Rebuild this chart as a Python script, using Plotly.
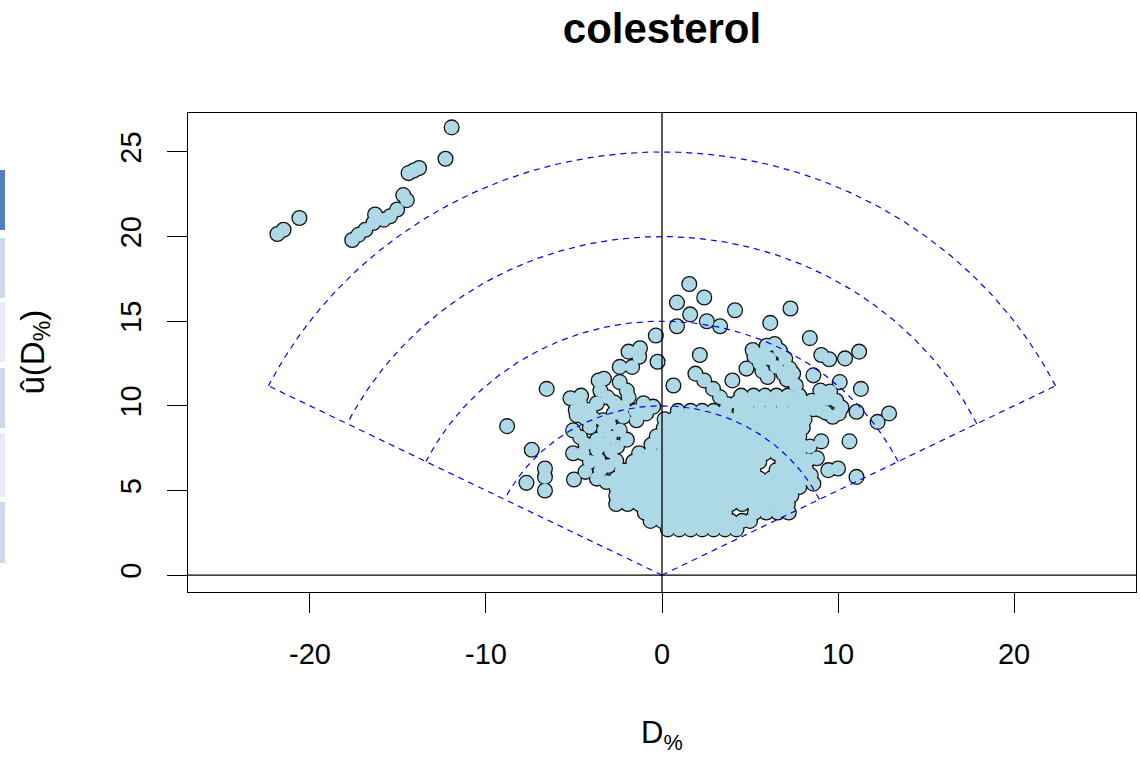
import numpy as np
import plotly.graph_objects as go

# ---- chart text ----
title_text = "colesterol"
x_title = "D<sub>%</sub>"
y_title = "û(D<sub>%</sub>)"
x_ticks = [-20, -10, 0, 10, 20]
x_tick_text = ["-20", "-10", "0", "10", "20"]
y_ticks = [0, 5, 10, 15, 20, 25]
y_tick_text = ["0", "5", "10", "15", "20", "25"]

# ---- reference wedge: arcs of constant radius, bounded by u = |D| * slope ----
radii = [10, 15, 20, 25]
slope_limit = 0.5

# ---- observations (D%, u(D%)) ----
far_left_strip = [
    (-21.85, 20.15), (-21.5, 20.4), (-20.6, 21.1), (-17.6, 19.8), (-17.25, 20.1),
    (-16.85, 20.4), (-16.4, 20.8), (-16.3, 21.3), (-15.8, 21.0), (-15.45, 21.2),
    (-15.05, 21.6), (-14.7, 22.45), (-14.5, 22.15), (-14.4, 23.75), (-14.1, 23.9),
    (-13.8, 24.05), (-12.3, 24.6), (-11.95, 26.45),
]

left_scatter = [
    (-8.8, 8.8), (-7.4, 7.4), (-6.65, 6.3), (-6.65, 5.8), (-6.65, 5.0),
    (-7.7, 5.45), (-5.0, 5.65), (-6.55, 11.0),
]

left_mass = [
    (-5.2, 10.45), (-4.65, 10.15), (-4.25, 9.75), (-4.9, 9.75), (-4.85, 9.45),
    (-3.6, 11.5), (-3.3, 11.6), (-3.5, 10.9), (-3.1, 10.5), (-3.7, 10.15),
    (-4.1, 9.75), (-2.4, 11.4), (-2.0, 10.9), (-1.9, 10.5), (-2.75, 9.55),
    (-2.2, 9.35), (-2.2, 9.95), (-3.35, 9.15), (-4.1, 8.75), (-5.05, 8.55),
    (-4.65, 8.15), (-3.7, 8.0), (-2.95, 8.15), (-2.4, 8.55), (-2.0, 8.0),
    (-2.55, 7.6), (-3.7, 7.4), (-5.05, 7.2), (-4.1, 6.7), (-3.05, 6.45),
    (-3.7, 5.7), (-3.15, 5.5), (-1.45, 9.15), (-0.9, 9.55), (-1.05, 10.15),
    (-0.5, 9.95), (-4.4, 9.3), (-3.9, 9.25), (-3.0, 8.95), (-3.3, 8.55),
    (-4.35, 7.75), (-3.3, 7.7), (-2.9, 7.3), (-4.5, 7.2), (-3.6, 6.8),
    (-2.6, 6.75), (-3.5, 6.2), (-4.35, 6.1), (-4.6, 10.6), (-2.7, 10.2),
    (-1.5, 9.7),
]

upper_center = [
    (-1.9, 13.2), (-1.25, 13.4), (-1.3, 12.9), (-2.4, 12.3), (-1.7, 12.3),
    (-0.35, 14.15), (-0.25, 12.6), (0.65, 11.2), (0.85, 16.1), (1.55, 17.2),
    (2.4, 16.4), (1.6, 15.4), (0.85, 14.7), (2.55, 15.0), (3.3, 14.7),
    (4.15, 15.65), (2.15, 13.0), (1.9, 11.9), (2.4, 11.5), (2.9, 11.0),
    (3.3, 10.5), (3.7, 10.1), (4.0, 11.5), (4.8, 12.2),
]

upper_right = [
    (6.15, 14.9), (5.15, 13.3), (5.95, 13.55), (6.7, 13.25), (5.55, 12.5),
    (6.5, 12.3), (7.25, 12.2), (7.1, 11.55), (6.0, 11.7), (6.1, 12.8),
    (7.3, 15.75), (8.4, 14.0), (5.25, 12.9), (5.6, 13.05), (6.4, 13.65),
    (7.0, 12.8), (6.9, 11.9), (7.45, 11.9), (5.7, 12.05), (7.6, 11.2),
]

right_side = [
    (9.05, 13.0), (9.5, 12.75), (10.4, 12.8), (11.2, 13.2), (8.6, 11.8),
    (10.1, 11.4), (11.3, 11.0), (9.0, 10.9), (9.4, 10.4), (9.9, 10.3),
    (9.0, 9.75), (9.7, 9.35), (10.2, 9.9), (8.5, 10.3), (11.05, 9.65),
    (12.25, 9.05), (12.9, 9.55), (9.05, 7.9), (10.65, 7.9), (9.45, 6.2),
    (10.0, 6.3), (11.05, 5.8), (8.3, 6.8), (8.45, 5.9), (8.6, 5.4),
    (7.7, 5.3), (8.9, 10.35), (9.55, 10.85), (10.05, 9.55), (9.3, 9.6),
    (8.6, 9.8), (8.4, 7.6), (8.8, 6.9), (8.2, 6.2),
]

# dense core: each row is (u, [D values])
core_rows = [
    (2.7, [0.33, 0.98, 1.63, 2.28, 2.93, 3.58, 4.23]),
    (3.2, [-0.65, 0.0, 0.65, 1.3, 1.95, 2.6, 3.25, 3.9, 4.55, 5.0]),
    (3.7, [-0.98, -0.33, 0.33, 0.98, 1.63, 2.28, 2.93, 3.58, 5.28, 5.93, 6.58, 7.2]),
    (4.2, [-2.6, -1.95, -1.3, -0.65, 0.0, 0.65, 1.3, 1.95, 2.6, 3.25, 3.9, 4.55,
           5.2, 5.85, 6.5, 7.15]),
    (4.7, [-2.6, -2.28, -1.63, -0.98, -0.33, 0.33, 0.98, 1.63, 2.28, 2.93, 3.58,
           4.23, 4.88, 5.53, 6.18, 6.83, 7.35]),
    (5.2, [-2.6, -1.95, -1.3, -0.65, 0.0, 0.65, 1.3, 1.95, 2.6, 3.25, 3.9, 4.55,
           5.2, 5.85, 6.5, 7.15, 7.8]),
    (5.7, [-2.6, -2.28, -1.63, -0.98, -0.33, 0.33, 0.98, 1.63, 2.28, 2.93, 3.58,
           4.23, 4.88, 5.53, 6.18, 6.83, 7.48, 8.13]),
    (6.2, [-2.3, -1.95, -1.3, -0.65, 0.0, 0.65, 1.3, 1.95, 2.6, 3.25, 3.9, 4.55,
           5.2, 6.5, 7.15, 7.8]),
    (6.7, [-1.63, -0.98, -0.33, 0.33, 0.98, 1.63, 2.28, 2.93, 3.58, 4.23, 4.88,
           5.53, 6.83, 7.48, 8.1]),
    (7.2, [-1.3, -0.65, 0.0, 0.65, 1.3, 1.95, 2.6, 3.25, 3.9, 4.55, 5.2, 5.85,
           6.5, 7.15, 7.8]),
    (7.7, [-0.6, 0.05, 0.33, 0.98, 1.63, 2.28, 2.93, 3.58, 4.23, 4.88, 5.53,
           6.18, 6.83, 7.48, 7.9]),
    (8.2, [-0.3, 0.0, 0.65, 1.3, 1.95, 2.6, 3.25, 3.9, 4.55, 5.2, 5.85, 6.5,
           7.15, 7.8]),
    (8.7, [0.1, 0.33, 0.98, 1.63, 2.28, 2.93, 3.58, 4.23, 4.88, 5.53, 6.18,
           6.83, 7.48, 8.0]),
    (9.2, [0.15, 0.65, 1.3, 1.95, 2.6, 3.25, 3.9, 4.55, 5.2, 5.85, 6.5, 7.15,
           7.8, 8.1]),
    (9.7, [0.9, 1.63, 2.28, 2.93, 3.58, 4.45, 4.88, 5.53, 6.18, 6.83, 7.48, 8.05]),
    (10.2, [4.25, 4.9, 5.55, 6.2, 6.85, 7.5, 8.05]),
    (10.6, [4.5, 5.2, 5.85, 6.5, 7.15, 7.8]),
]

# ---- assemble point arrays ----
d_vals, u_vals = [], []
for u, ds in core_rows:
    for d in ds:
        d_vals.append(d)
        u_vals.append(u)
for group in (left_mass, upper_center, upper_right, right_side, left_scatter, far_left_strip):
    for d, u in group:
        d_vals.append(d)
        u_vals.append(u)

FONT = "Liberation Sans, Arial, sans-serif"
MARKER_SIZE = 13.5
fig = go.Figure()

# outlined layer, then a fill-only layer on top so only the outer rim of
# overlapping clusters keeps its black edge
fig.add_trace(go.Scatter(
    x=d_vals, y=u_vals, mode="markers",
    marker=dict(size=MARKER_SIZE, color="#ADD8E6", line=dict(color="#111111", width=2.6)),
    hoverinfo="skip", showlegend=False,
))
fig.add_trace(go.Scatter(
    x=d_vals, y=u_vals, mode="markers",
    marker=dict(size=MARKER_SIZE, color="#ADD8E6", line=dict(width=0)),
    hoverinfo="skip", showlegend=False,
))

# dashed reference arcs and wedge edges
theta0 = np.arctan(slope_limit)
theta = np.linspace(theta0, np.pi - theta0, 200)
dash_line = dict(color="#0000FF", width=1.2, dash="6px,5px")
for r in radii:
    fig.add_trace(go.Scatter(
        x=r * np.cos(theta), y=r * np.sin(theta), mode="lines",
        line=dash_line, hoverinfo="skip", showlegend=False,
    ))
r_max = max(radii)
for ang in (theta0, np.pi - theta0):
    fig.add_trace(go.Scatter(
        x=[0, r_max * np.cos(ang)], y=[0, r_max * np.sin(ang)], mode="lines",
        line=dash_line, hoverinfo="skip", showlegend=False,
    ))

# zero reference lines across the full panel
shapes = [
    dict(type="line", xref="x", yref="paper", x0=0, x1=0, y0=0, y1=1,
         line=dict(color="black", width=1.3), layer="above"),
    dict(type="line", xref="paper", yref="y", x0=0, x1=1, y0=0, y1=0,
         line=dict(color="black", width=1.3), layer="above"),
]

# narrow strips along the left page edge
strip_spans = [(170, 230, "#4F81BD"), (238, 298, "#CFD8EA"), (302, 362, "#E8ECF4"),
               (368, 428, "#CFD8EA"), (433, 497, "#E8ECF4"), (502, 563, "#CFD8EA")]
for top, bottom, col in strip_spans:
    shapes.append(dict(type="rect", xref="paper", yref="paper",
                       x0=(0 - 188) / 948, x1=(5 - 188) / 948,
                       y0=(592 - bottom) / 479, y1=(592 - top) / 479,
                       fillcolor=col, line=dict(width=0), layer="below"))

axis_common = dict(
    showgrid=False, zeroline=False, showline=True, mirror=True,
    linecolor="black", linewidth=1.3, ticks="outside", ticklen=20,
    tickwidth=1.3, tickcolor="black",
    tickfont=dict(family=FONT, size=29, color="black"),
)

fig.update_layout(
    width=1140, height=757,
    margin=dict(l=188, r=4, t=113, b=165),
    paper_bgcolor="white", plot_bgcolor="white",
    title=dict(text="<b>" + title_text + "</b>", x=0.5, xref="paper",
               y=1 - 28 / 757, yref="container", yanchor="middle",
               font=dict(family=FONT, size=42, color="black")),
    xaxis=dict(range=[-26.93, 26.93], tickvals=x_ticks, ticktext=x_tick_text,
               ticklabelstandoff=16, **axis_common),
    yaxis=dict(range=[-1.0, 27.3], tickvals=y_ticks, ticktext=y_tick_text,
               tickangle=-90, ticklabelstandoff=14, **axis_common),
    shapes=shapes,
    annotations=[
        dict(text=x_title, xref="paper", yref="paper", x=0.5, y=(592 - 735) / 479,
             xanchor="center", yanchor="middle", showarrow=False,
             font=dict(family=FONT, size=31, color="black")),
        dict(text=y_title, xref="paper", yref="paper", x=(34 - 188) / 948, y=0.5,
             xanchor="center", yanchor="middle", textangle=-90, showarrow=False,
             font=dict(family=FONT, size=33, color="black")),
    ],
)

fig.write_html("out.html")
